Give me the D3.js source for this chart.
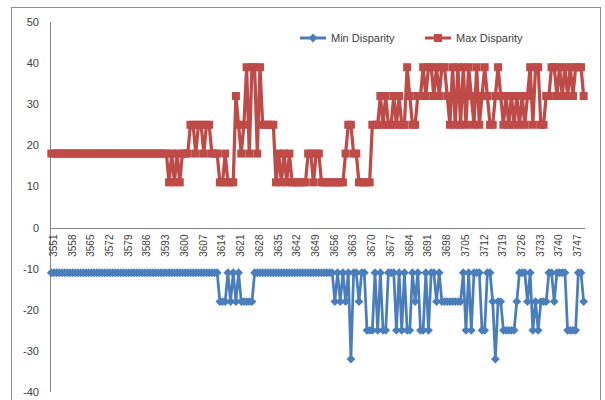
<!DOCTYPE html>
<html>
<head>
<meta charset="utf-8">
<script src="https://cdn.jsdelivr.net/npm/d3@7"></script>
<style>
  body { margin: 0; background: #fff; }
  svg { display: block; font-family: "Liberation Sans", Arial, sans-serif; }
</style>
</head>
<body>
<svg id="chart" width="605" height="400"></svg>
<script>
// frame numbers 3551 .. 3750
const firstFrame = 3551;
const frames = d3.range(firstFrame, firstFrame + 200);

const tickLabels = [3551, 3558, 3565, 3572, 3579, 3586, 3593, 3600, 3607, 3614,
  3621, 3628, 3635, 3642, 3649, 3656, 3663, 3670, 3677, 3684, 3691, 3698,
  3705, 3712, 3719, 3726, 3733, 3740, 3747];

const yTicks = [-40, -30, -20, -10, 0, 10, 20, 30, 40, 50];

const minDisparity = [
  -11,-11,-11,-11,-11,-11,-11,-11,-11,-11,  // 0
  -11,-11,-11,-11,-11,-11,-11,-11,-11,-11,  // 10
  -11,-11,-11,-11,-11,-11,-11,-11,-11,-11,  // 20
  -11,-11,-11,-11,-11,-11,-11,-11,-11,-11,  // 30
  -11,-11,-11,-11,-11,-11,-11,-11,-11,-11,  // 40
  -11,-11,-11,-11,-11,-11,-11,-11,-11,-11,  // 50
  -11,-11,-11,-18,-18,-18,-11,-18,-11,-18,  // 60
  -11,-18,-18,-18,-18,-18,-11,-11,-11,-11,  // 70
  -11,-11,-11,-11,-11,-11,-11,-11,-11,-11,  // 80
  -11,-11,-11,-11,-11,-11,-11,-11,-11,-11,  // 90
  -11,-11,-11,-11,-11,-11,-18,-11,-18,-11,  // 100
  -18,-11,-32,-11,-11,-18,-11,-11,-25,-25,  // 110
  -25,-11,-25,-11,-25,-25,-11,-11,-11,-25,  // 120
  -11,-25,-11,-25,-25,-11,-18,-11,-25,-25,  // 130
  -11,-25,-11,-11,-18,-11,-18,-18,-18,-18,  // 140
  -18,-18,-18,-18,-11,-25,-11,-25,-11,-11,  // 150
  -11,-25,-25,-11,-11,-18,-32,-18,-18,-25,  // 160
  -25,-25,-25,-25,-18,-11,-11,-11,-18,-11,  // 170
  -25,-18,-25,-18,-18,-18,-11,-11,-18,-11,  // 180
  -11,-11,-11,-25,-25,-25,-25,-11,-11,-18   // 190
];

const maxDisparity = [
  18,18,18,18,18,18,18,18,18,18,  // 0
  18,18,18,18,18,18,18,18,18,18,  // 10
  18,18,18,18,18,18,18,18,18,18,  // 20
  18,18,18,18,18,18,18,18,18,18,  // 30
  18,18,18,18,11,18,11,18,11,18,  // 40
  18,18,25,25,18,25,25,18,25,25,  // 50
  18,18,18,11,11,18,11,11,11,32,  // 60
  25,18,25,39,18,39,39,18,39,25,  // 70
  25,25,25,25,11,18,11,18,11,18,  // 80
  11,11,11,11,11,11,18,18,11,18,  // 90
  18,11,11,11,11,11,11,11,11,11,  // 100
  18,25,25,18,18,11,11,11,11,11,  // 110
  25,25,25,32,25,32,25,25,32,25,  // 120
  32,25,25,39,32,25,25,32,32,39,  // 130
  32,39,39,32,39,32,39,39,32,25,  // 140
  39,25,39,25,39,25,39,32,25,39,  // 150
  25,32,39,32,25,25,32,39,32,25,  // 160
  32,25,32,25,32,25,32,25,32,39,  // 170
  25,39,39,25,25,32,32,39,39,32,  // 180
  39,32,39,32,39,32,39,39,39,32   // 190
];

const svg = d3.select("#chart");

// chart frame
svg.append("rect")
    .attr("x", 11.5).attr("y", 7.5)
    .attr("width", 589).attr("height", 420)
    .attr("fill", "none")
    .attr("stroke", "#8c8c8c");

const x = d3.scaleBand()
    .domain(frames)
    .range([50, 585]);

const y = d3.scaleLinear()
    .domain([-40, 50])
    .range([392, 22]);

const cx = d => x(d) + x.bandwidth() / 2;

// value axis
svg.append("line")
    .attr("x1", 50.5).attr("x2", 50.5)
    .attr("y1", y(50)).attr("y2", y(-40))
    .attr("stroke", "#868686");

svg.selectAll(".ylab")
    .data(yTicks)
    .enter()
  .append("text")
    .attr("x", 39)
    .attr("y", d => y(d) + 4)
    .attr("text-anchor", "end")
    .attr("font-size", 11)
    .attr("fill", "#404040")
    .text(d => d);

// category axis sits on zero
svg.append("line")
    .attr("x1", 50).attr("x2", 585)
    .attr("y1", Math.round(y(0)) + 0.5).attr("y2", Math.round(y(0)) + 0.5)
    .attr("stroke", "#868686");

svg.selectAll(".xlab")
    .data(tickLabels)
    .enter()
  .append("text")
    .attr("transform", d => `translate(${cx(d) + 5.5}, ${y(0) + 7}) rotate(-90)`)
    .attr("text-anchor", "end")
    .attr("font-size", 10)
    .attr("fill", "#404040")
    .text(d => d);

const line = d3.line()
    .x(d => cx(d.f))
    .y(d => y(d.v));

const minPts = frames.map((f, i) => ({f: f, v: minDisparity[i]}));
const maxPts = frames.map((f, i) => ({f: f, v: maxDisparity[i]}));

const blue = "#4a7ebb";
const red = "#be4b48";

svg.append("path")
    .datum(minPts)
    .attr("d", line)
    .attr("fill", "none")
    .attr("stroke", blue)
    .attr("stroke-width", 2.75)
    .attr("stroke-linejoin", "round");

const diamond = d3.symbol().type(d3.symbolDiamond2).size(50);
svg.selectAll(".minpt")
    .data(minPts)
    .enter()
  .append("path")
    .attr("d", diamond)
    .attr("transform", d => `translate(${cx(d.f)}, ${y(d.v)})`)
    .attr("fill", blue);

svg.append("path")
    .datum(maxPts)
    .attr("d", line)
    .attr("fill", "none")
    .attr("stroke", red)
    .attr("stroke-width", 3.25)
    .attr("stroke-linejoin", "round");

svg.selectAll(".maxpt")
    .data(maxPts)
    .enter()
  .append("rect")
    .attr("x", d => cx(d.f) - 4)
    .attr("y", d => y(d.v) - 4)
    .attr("width", 8).attr("height", 8)
    .attr("fill", red);

// legend
const legend = [
  {name: "Min Disparity", color: blue, x: 300},
  {name: "Max Disparity", color: red, x: 425}
];
const lg = svg.selectAll(".legend")
    .data(legend)
    .enter()
  .append("g")
    .attr("transform", d => `translate(${d.x}, 38)`);

lg.append("line")
    .attr("x1", 0).attr("x2", 26)
    .attr("stroke", d => d.color)
    .attr("stroke-width", 3);

lg.filter((d, i) => i === 0).append("path")
    .attr("d", diamond)
    .attr("transform", "translate(13, 0)")
    .attr("fill", blue);

lg.filter((d, i) => i === 1).append("rect")
    .attr("x", 9).attr("y", -4)
    .attr("width", 8).attr("height", 8)
    .attr("fill", red);

lg.append("text")
    .attr("x", 31)
    .attr("y", 4)
    .attr("font-size", 11)
    .attr("fill", "#404040")
    .text(d => d.name);
</script>
</body>
</html>
